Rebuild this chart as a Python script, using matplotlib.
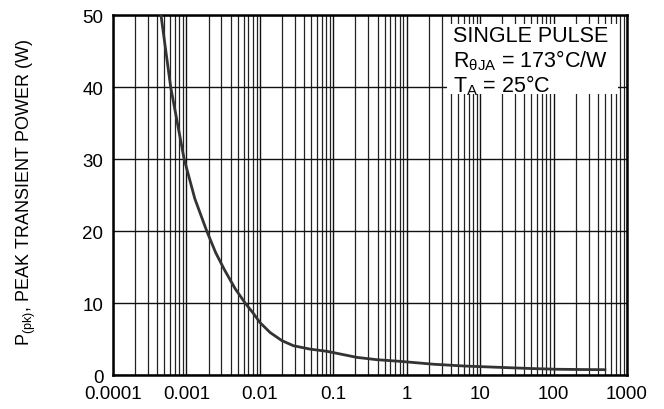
import matplotlib
matplotlib.use("Agg")
import matplotlib.pyplot as plt
from matplotlib.patches import Rectangle
from matplotlib.ticker import LogLocator, NullFormatter, FixedLocator

plt.rcParams["font.family"] = ["Liberation Sans", "DejaVu Sans"]
plt.rcParams["mathtext.fontset"] = "custom"
plt.rcParams["mathtext.rm"] = "Liberation Sans"
plt.rcParams["mathtext.it"] = "Liberation Sans"

# pulse width (s) vs peak transient power (W)
pulse_t = [0.00045, 0.00061, 0.00093, 0.0013, 0.00189, 0.0025, 0.0033,
           0.0046, 0.0063, 0.0081, 0.01, 0.0138, 0.02, 0.0286, 0.048,
           0.082, 0.124, 0.209, 0.39, 0.81, 2.3, 6.0, 18.7, 50, 110, 250, 500]
power = [50, 40, 30, 24.5, 20, 17.0, 14.6,
         12.0, 10, 8.6, 7.3, 5.9, 4.77, 4.07, 3.6,
         3.29, 2.92, 2.45, 2.13, 1.9, 1.5, 1.25, 1.06, 0.9, 0.8, 0.76, 0.74]

x_ticks = [0.0001, 0.001, 0.01, 0.1, 1, 10, 100, 1000]
x_labels = ["0.0001", "0.001", "0.01", "0.1", "1", "10", "100", "1000"]
y_ticks = [0, 10, 20, 30, 40, 50]

fig = plt.figure(figsize=(6.64, 4.10), dpi=100)
ax = fig.add_axes([0.1702, 0.0829, 0.7741, 0.878])

ax.set_xscale("log")
ax.set_xlim(0.0001, 1000)
ax.set_ylim(0, 50)
ax.xaxis.set_major_locator(FixedLocator(x_ticks))
ax.set_xticklabels(x_labels)
ax.xaxis.set_minor_locator(LogLocator(base=10, subs=range(2, 10), numticks=20))
ax.xaxis.set_minor_formatter(NullFormatter())
ax.set_yticks(y_ticks)

ax.set_axisbelow(True)
ax.grid(True, which="major", axis="both", color="#111111", lw=1.0)
ax.grid(True, which="minor", axis="x", color="#222222", lw=0.9)
ax.tick_params(which="both", length=0, labelsize=13.5, pad=7, colors="black")

for sp in ax.spines.values():
    sp.set_linewidth(1.8)

ax.plot(pulse_t, power, color="#333333", lw=2.0, zorder=3)

# white panel behind the annotation
ax.add_patch(Rectangle((0.650, 0.781), 0.332, 0.194, transform=ax.transAxes,
                       facecolor="white", edgecolor="none", zorder=2))
box_font = dict(fontsize=15.5, va="baseline", ha="left", zorder=4,
                transform=ax.transAxes)
ax.text(0.661, 0.928, "SINGLE PULSE", **box_font)
ax.text(0.661, 0.858, r"R$_{\theta\mathrm{JA}}$ = 173°C/W", **box_font)
ax.text(0.661, 0.788, r"T$_{\mathrm{A}}$ = 25°C", **box_font)

ax.set_ylabel(r"P$_{\mathrm{(pk)}}$, PEAK TRANSIENT POWER (W)", fontsize=13)
ax.yaxis.set_label_coords(-0.145, 0.51)

fig.savefig("out.png", dpi=100)
